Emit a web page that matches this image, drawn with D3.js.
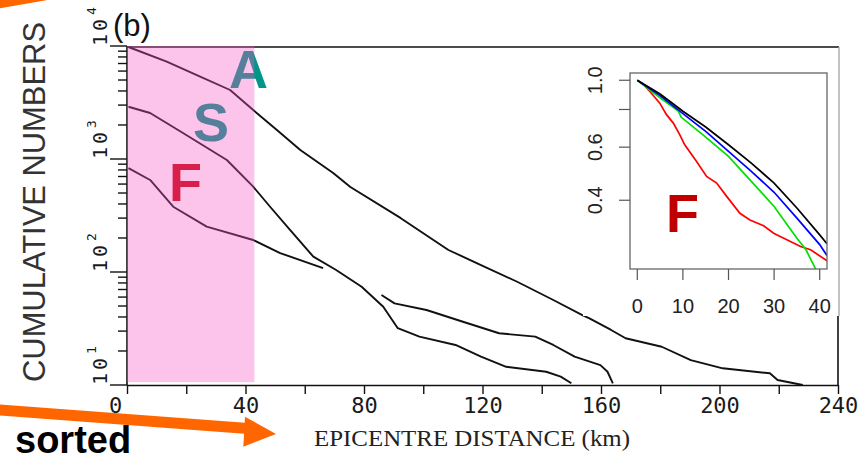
<!DOCTYPE html>
<html>
<head>
<meta charset="utf-8">
<script src="https://cdn.jsdelivr.net/npm/d3@7"></script>
<style>
body { margin: 0; background: #fff; }
svg { display: block; }
</style>
</head>
<body>
<svg id="chart" width="866" height="461"></svg>
<script>
// main panel: cumulative numbers (log) vs epicentre distance in km
const distTicks = [0, 20, 40, 60, 80, 100, 120, 140, 160, 180, 200, 220, 240];
const distLabels = [0, 40, 80, 120, 160, 200, 240];
const decades = [1, 2, 3, 4];

const curveA = [[0.5, 9800], [13.4, 7260], [24.7, 5350], [34.8, 4080], [42.6, 2715], [50.6, 1806],
    [58.5, 1201], [69.6, 752], [75.4, 565], [92.3, 301], [108.5, 156.6], [119.5, 115.3], [131.7, 82.0],
    [143.9, 56.5], [153.7, 41.6], [156.1, 38.9], [163.4, 30.7], [168.3, 25.9], [180.5, 21.8],
    [190.3, 16.6], [201.1, 14.05], [217.0, 12.69], [219.6, 11.07], [228.1, 10.0]];
const curveS = [[0.5, 2900], [7.8, 2553], [18.9, 1698], [33.7, 979], [42.6, 569], [48.3, 378],
    [55.1, 235], [62.9, 136.6], [70.6, 104.2], [79.2, 74.1], [86.5, 49.3], [91.4, 31.8], [98.7, 26.8],
    [110.9, 22.6], [119.5, 17.8], [128.0, 14.5], [141.5, 13.1], [146.4, 11.85], [150.0, 10.35]];
const curveF = [[0.5, 830], [7.8, 652], [15.6, 378], [26.9, 252], [42.6, 192], [51.7, 147], [66.2, 108.4]];
const curveFfar = [[85.9, 62.5], [90.3, 52.8], [101.1, 46.1], [113.4, 36.3], [125.6, 28.7], [137.8, 26.8],
    [143.9, 22.6], [151.1, 17.8], [159.8, 15.0], [162.2, 13.1], [164.0, 10.35]];

const bandKm = [0, 43];
const bandCount = [10.6, 10000];

const curveLetters = [
    { text: 'A', km: 34.4, n: 4250, color: '#009688' },
    { text: 'S', km: 22.3, n: 1442, color: '#009688' },
    { text: 'F', km: 14.2, n: 425, color: '#c8000a' }
];

// inset: normalised cumulative curves, first 40 km
const insetTicksX = [0, 10, 20, 30, 40];
const insetTicksY = [0.4, 0.6, 0.8, 1.0];
const insetLabelsY = [0.4, 0.6, 1.0];

const insetBlack = [[0, 1.0], [5, 0.90], [10, 0.789], [15, 0.70], [20, 0.611], [25, 0.531], [30, 0.456],
    [35, 0.377], [40, 0.307], [41.6, 0.287]];
const insetBlue = [[0, 1.0], [5, 0.889], [10, 0.775], [15, 0.677], [20, 0.581], [25, 0.499], [30, 0.425],
    [35, 0.349], [40, 0.285], [41.6, 0.262]];
const insetGreen = [[0, 1.0], [5, 0.875], [9, 0.79], [9.6, 0.755], [15, 0.648], [20, 0.559], [25, 0.462],
    [30, 0.3815], [35, 0.299], [37, 0.274], [39, 0.238], [39.5, 0.23]];
const insetRed = [[1.6, 0.962], [2.7, 0.919], [4.9, 0.841], [6.4, 0.769], [7.9, 0.721], [9.3, 0.66],
    [10.4, 0.611], [13, 0.538], [15.2, 0.48], [17.4, 0.456], [19.6, 0.412], [22.5, 0.362], [24.7, 0.344],
    [27.7, 0.329], [29.9, 0.311], [32.8, 0.296], [35.8, 0.281], [38, 0.274], [41.6, 0.252]];

const svg = d3.select('#chart');

const x = d3.scaleLinear().domain([0, 240]).range([127, 838]);
const y = d3.scaleLog().domain([10, 10000]).range([385, 46]);

// x axis
const xAxis = d3.axisBottom(x)
    .tickValues(distTicks)
    .tickSize(9)
    .tickSizeOuter(0)
    .tickPadding(3)
    .tickFormat(d => distLabels.includes(d) ? d : '');

const gx = svg.append('g')
    .attr('transform', `translate(0,${y(10)})`)
    .call(xAxis);
gx.select('.domain').attr('stroke', '#111').attr('stroke-width', 1.6);
gx.selectAll('.tick line').attr('stroke', '#111').attr('stroke-width', 1.4);
gx.selectAll('.tick text')
    .attr('font-family', 'DejaVu Sans Mono')
    .attr('font-size', 22)
    .attr('fill', '#1a1a1a');
gx.selectAll('.tick text').filter(d => d === 0).attr('dx', -12);

// y axis, hand made so majors and minors get their own length
let yTicks = [];
decades.forEach(d => {
    if (d < 4) {
        for (let m = 1; m < 10; m++) yTicks.push({ v: m * Math.pow(10, d), major: m === 1 });
    } else {
        yTicks.push({ v: Math.pow(10, d), major: true });
    }
});

svg.append('line')
    .attr('x1', x(0)).attr('x2', x(0))
    .attr('y1', y(10)).attr('y2', y(10000))
    .attr('stroke', '#111').attr('stroke-width', 1.6);

svg.append('g').selectAll('line')
    .data(yTicks)
    .enter()
    .append('line')
    .attr('x1', d => x(0) - (d.major ? 17 : 9))
    .attr('x2', x(0))
    .attr('y1', d => y(d.v))
    .attr('y2', d => y(d.v))
    .attr('stroke', '#111')
    .attr('stroke-width', 1.4);

const yLab = svg.append('g').selectAll('g')
    .data(decades)
    .enter()
    .append('g')
    .attr('transform', d => `translate(107,${y(Math.pow(10, d))}) rotate(-90)`);
yLab.append('text')
    .attr('font-family', 'DejaVu Sans Mono')
    .attr('font-size', 20)
    .attr('letter-spacing', 3)
    .attr('fill', '#1a1a1a')
    .text('10');
yLab.append('text')
    .attr('x', 31)
    .attr('y', -11)
    .attr('font-family', 'DejaVu Sans Mono')
    .attr('font-size', 13)
    .attr('fill', '#1a1a1a')
    .text(d => d);

// frame
svg.append('line')
    .attr('x1', x(0)).attr('x2', 839)
    .attr('y1', 47).attr('y2', 47)
    .attr('stroke', '#111').attr('stroke-width', 1.6);

// curves
const line = d3.line().x(d => x(d[0])).y(d => y(d[1]));
[curveA, curveS, curveF, curveFfar].forEach(c => {
    svg.append('path')
        .datum(c)
        .attr('d', line)
        .attr('fill', 'none')
        .attr('stroke', '#111')
        .attr('stroke-width', 1.9)
        .attr('stroke-linejoin', 'round');
});

// curve letters sit under the pink band
svg.append('g').selectAll('text')
    .data(curveLetters)
    .enter()
    .append('text')
    .attr('x', d => x(d.km))
    .attr('y', d => y(d.n))
    .attr('font-family', 'Liberation Sans')
    .attr('font-weight', 'bold')
    .attr('font-size', 54)
    .attr('fill', d => d.color)
    .text(d => d.text);

svg.append('rect')
    .attr('x', x(bandKm[0]))
    .attr('y', y(bandCount[1]))
    .attr('width', x(bandKm[1]) - x(bandKm[0]))
    .attr('height', y(bandCount[0]) - y(bandCount[1]))
    .attr('fill', '#f656c3')
    .attr('fill-opacity', 0.35);

// inset pasted on a white card
svg.append('rect')
    .attr('x', 583).attr('y', 51)
    .attr('width', 255).attr('height', 265)
    .attr('fill', '#fff');

svg.append('line')
    .attr('x1', 839).attr('x2', 839)
    .attr('y1', 47).attr('y2', 316)
    .attr('stroke', '#aaa').attr('stroke-width', 1.4);
svg.append('line')
    .attr('x1', 838).attr('x2', 838)
    .attr('y1', 316).attr('y2', y(10))
    .attr('stroke', '#111').attr('stroke-width', 1.6);

const ix = d3.scaleLinear().domain([-1.6, 41.6]).range([630, 827]);
const iy = d3.scaleLog().domain([0.2366, 1.057]).range([269, 73]);

svg.append('clipPath').attr('id', 'insetClip')
    .append('rect')
    .attr('x', 630).attr('y', 73)
    .attr('width', 197).attr('height', 196);

const iline = d3.line().x(d => ix(d[0])).y(d => iy(d[1]));
const insetCurves = [
    { data: insetRed, color: '#ff0000' },
    { data: insetGreen, color: '#00e000' },
    { data: insetBlue, color: '#0000ff' },
    { data: insetBlack, color: '#000000' }
];
svg.append('g')
    .attr('clip-path', 'url(#insetClip)')
    .selectAll('path')
    .data(insetCurves)
    .enter()
    .append('path')
    .attr('d', d => iline(d.data))
    .attr('fill', 'none')
    .attr('stroke', d => d.color)
    .attr('stroke-width', 1.7);

svg.append('rect')
    .attr('x', 630).attr('y', 73)
    .attr('width', 197).attr('height', 196)
    .attr('fill', 'none')
    .attr('stroke', '#666')
    .attr('stroke-width', 1.3);

svg.append('g').selectAll('line')
    .data(insetTicksX)
    .enter()
    .append('line')
    .attr('x1', d => ix(d)).attr('x2', d => ix(d))
    .attr('y1', 269).attr('y2', 280)
    .attr('stroke', '#555').attr('stroke-width', 1.2);
svg.append('g').selectAll('text')
    .data(insetTicksX)
    .enter()
    .append('text')
    .attr('x', d => ix(d))
    .attr('y', 313)
    .attr('text-anchor', 'middle')
    .attr('font-family', 'Liberation Sans')
    .attr('font-size', 20)
    .attr('fill', '#222')
    .text(d => d);

svg.append('g').selectAll('line')
    .data(insetTicksY)
    .enter()
    .append('line')
    .attr('x1', 619).attr('x2', 630)
    .attr('y1', d => iy(d)).attr('y2', d => iy(d))
    .attr('stroke', '#555').attr('stroke-width', 1.2);
svg.append('g').selectAll('text')
    .data(insetLabelsY)
    .enter()
    .append('text')
    .attr('transform', d => `translate(602,${iy(d)}) rotate(-90)`)
    .attr('text-anchor', 'middle')
    .attr('font-family', 'Liberation Sans')
    .attr('font-size', 20)
    .attr('fill', '#222')
    .text(d => d.toFixed(1));

svg.append('text')
    .attr('x', ix(6.3))
    .attr('y', iy(0.314))
    .attr('font-family', 'Liberation Sans')
    .attr('font-weight', 'bold')
    .attr('font-size', 54)
    .attr('fill', '#c00000')
    .text('F');

// titles
svg.append('text')
    .attr('x', 113).attr('y', 36)
    .attr('font-family', 'Liberation Sans')
    .attr('font-size', 31)
    .attr('fill', '#111')
    .text('(b)');

svg.append('text')
    .attr('transform', 'translate(45,382) rotate(-90)')
    .attr('font-family', 'Liberation Sans')
    .attr('font-size', 31)
    .attr('textLength', 360)
    .attr('lengthAdjust', 'spacingAndGlyphs')
    .attr('fill', '#333')
    .text('CUMULATIVE NUMBERS');

svg.append('text')
    .attr('x', 472).attr('y', 446)
    .attr('text-anchor', 'middle')
    .attr('font-family', 'Liberation Serif')
    .attr('font-size', 24)
    .attr('textLength', 316)
    .attr('lengthAdjust', 'spacingAndGlyphs')
    .attr('fill', '#222')
    .text('EPICENTRE DISTANCE (km)');

// orange arrows and note
svg.append('line')
    .attr('x1', -5).attr('y1', 3.5).attr('x2', 50).attr('y2', -6)
    .attr('stroke', '#ff6600').attr('stroke-width', 11);
svg.append('line')
    .attr('x1', -5).attr('y1', 409.6).attr('x2', 248).attr('y2', 428.6)
    .attr('stroke', '#ff6600').attr('stroke-width', 11);
svg.append('polygon')
    .attr('points', '245,416.7 276,434 243.3,446.7')
    .attr('fill', '#ff6600');

svg.append('text')
    .attr('x', 15).attr('y', 453)
    .attr('font-family', 'Liberation Sans')
    .attr('font-weight', 'bold')
    .attr('font-size', 38)
    .attr('fill', '#000')
    .text('sorted');
</script>
</body>
</html>
